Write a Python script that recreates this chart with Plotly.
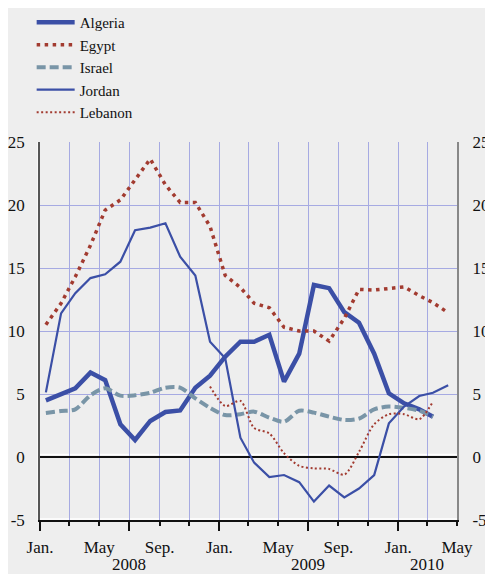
import pandas as pd
import plotly.graph_objects as go

# Monthly observations, Jan 2008 - Apr 2010 (plotted mid-month)
months = pd.date_range("2008-01-01", "2010-04-01", freq="MS") + pd.Timedelta(days=12)

algeria = [4.5, 5.0, 5.45, 6.7, 6.1, 2.6, 1.35, 2.86, 3.57, 3.7, 5.5, 6.45,
           7.96, 9.15, 9.15, 9.7, 5.98, 8.2, 13.65, 13.4, 11.5, 10.66, 8.2, 5.05,
           4.26, 3.78, 3.2, None]
egypt = [10.5, 12.2, 14.3, 16.8, 19.6, 20.4, 22.0, 23.65, 21.6, 20.2, 20.2, 18.3,
         14.4, 13.45, 12.2, 11.85, 10.3, 10.0, 10.0, 9.2, 11.0, 13.3, 13.25, 13.35,
         13.5, 12.8, 12.25, 11.45]
israel = [3.5, 3.65, 3.78, 4.9, 5.45, 4.87, 4.9, 5.1, 5.5, 5.5, 4.65, 3.9,
          3.33, 3.4, 3.6, 3.12, 2.8, 3.67, 3.52, 3.2, 2.94, 3.05, 3.78, 4.0,
          3.9, 3.67, 3.2, None]
jordan = [5.13, 11.4, 13.0, 14.2, 14.5, 15.5, 18.0, 18.2, 18.55, 15.9, 14.4, 9.15,
          7.83, 1.53, -0.45, -1.6, -1.43, -2.0, -3.54, -2.27, -3.2, -2.5, -1.43, 2.67,
          4.0, 4.84, 5.1, 5.7]
lebanon = [None] * 11 + [5.6,
           4.05, 4.45, 2.3, 1.87, 0.3, -0.7, -0.9, -0.95, -1.4, 0.4, 2.6, 3.4,
           3.4, 3.0, 4.4, None]

y_ticks = [-5, 0, 5, 10, 15, 20, 25]
y_ticktext = ["-5", "0", "5", "10", "15", "20", "25"]

grid_ticks = pd.date_range("2008-01-01", "2010-05-01", freq="2MS")
month_names = {1: "Jan.", 5: "May", 9: "Sep."}
grid_text = [month_names.get(d.month, "") for d in grid_ticks]
long_ticks = ["2008-01-01", "2008-07-01", "2009-01-01", "2009-07-01", "2010-01-01"]
year_labels = ["2008", "2009", "2010"]
year_pos = ["2008-07-01", "2009-07-01", "2010-03-01"]

BLUE = "#3b4fa6"
RED = "#a23b30"
GREY = "#7995a7"
GRID = "#a6aae2"
FONT = "Liberation Serif, Times New Roman, Times, DejaVu Serif, serif"
xr = ["2008-01-01", "2010-05-01"]

fig = go.Figure()
fig.add_trace(go.Scatter(x=months, y=algeria, name="Algeria", mode="lines",
                         line=dict(color=BLUE, width=4.5)))
fig.add_trace(go.Scatter(x=months, y=egypt, name="Egypt", mode="lines",
                         line=dict(color=RED, width=3.5, dash="3.5px,4.5px")))
fig.add_trace(go.Scatter(x=months, y=israel, name="Israel", mode="lines",
                         line=dict(color=GREY, width=4, dash="9px,4px", shape="spline", smoothing=0.8)))
fig.add_trace(go.Scatter(x=months, y=jordan, name="Jordan", mode="lines",
                         line=dict(color=BLUE, width=2.2)))
fig.add_trace(go.Scatter(x=months, y=lebanon, name="Lebanon", mode="lines",
                         line=dict(color=RED, width=2, dash="2px,2.5px", shape="spline", smoothing=0.8)))

# The page body adds an 8px offset, so the figure is 8px smaller and margins shifted.
fig.update_layout(
    width=485, height=566,
    margin=dict(l=32, r=36, t=134, b=54, autoexpand=False),
    paper_bgcolor="#eeeeee", plot_bgcolor="#eeeeee",
    font=dict(family=FONT, size=17, color="#111111"),
    hovermode=False,
    showlegend=True,
    legend=dict(x=-0.02, y=1.36, xanchor="left", yanchor="top",
                bgcolor="rgba(0,0,0,0)", font=dict(family=FONT, size=15),
                tracegroupgap=0, itemwidth=38),
    xaxis=dict(type="date", range=xr, tickvals=grid_ticks, ticktext=grid_text,
               showgrid=True, gridcolor=GRID, gridwidth=1,
               ticks="outside", ticklen=4, tickcolor="#111", tickwidth=1.5,
               showline=True, linecolor="#111", linewidth=1.5,
               ticklabelstandoff=7, tickfont=dict(size=17), zeroline=False,
               automargin=False),
    xaxis2=dict(type="date", range=xr, overlaying="x", anchor="y", side="bottom",
                tickvals=long_ticks, showticklabels=False, showgrid=False,
                ticks="outside", ticklen=10, tickcolor="#111", tickwidth=1.5,
                showline=False, zeroline=False, automargin=False),
    yaxis=dict(range=[-5, 25], tickvals=y_ticks, ticktext=y_ticktext,
               showgrid=True, gridcolor=GRID, gridwidth=1,
               zeroline=True, zerolinecolor="#111", zerolinewidth=2,
               showline=True, linecolor="#555", linewidth=1.5,
               ticks="", ticklabelstandoff=10, tickfont=dict(size=17),
               automargin=False),
    yaxis2=dict(range=[-5, 25], tickvals=y_ticks, ticktext=y_ticktext,
                overlaying="y", side="right", anchor="x",
                showgrid=False, zeroline=False,
                showline=True, linecolor="#888", linewidth=2,
                ticks="", ticklabelstandoff=10, tickfont=dict(size=17),
                automargin=False),
    shapes=[
        # white highlight just above the zero line and the bottom axis, left of the left axis
        dict(type="line", xref="paper", x0=0, x1=1, yref="y", ysizemode="pixel",
             yanchor=0, y0=2.5, y1=2.5, line=dict(color="white", width=1.5), layer="between"),
        dict(type="line", xref="paper", x0=0, x1=1, yref="paper", ysizemode="pixel",
             yanchor=0, y0=1, y1=1, line=dict(color="white", width=1.5), layer="between"),
        dict(type="line", yref="paper", y0=0, y1=1, xref="paper", xsizemode="pixel",
             xanchor=0, x0=-2, x1=-2, line=dict(color="white", width=1.2), layer="between"),
    ],
)

# invisible trace to activate the secondary axes
fig.add_trace(go.Scatter(x=[months[0]], y=[None], xaxis="x2", yaxis="y2",
                         showlegend=False, hoverinfo="skip"))

for txt, pos in zip(year_labels, year_pos):
    fig.add_annotation(x=pos, y=0, xref="x", yref="paper", text=txt,
                       showarrow=False, yanchor="top", yshift=-33,
                       font=dict(family=FONT, size=17, color="#111"))

fig.write_html("out.html")
